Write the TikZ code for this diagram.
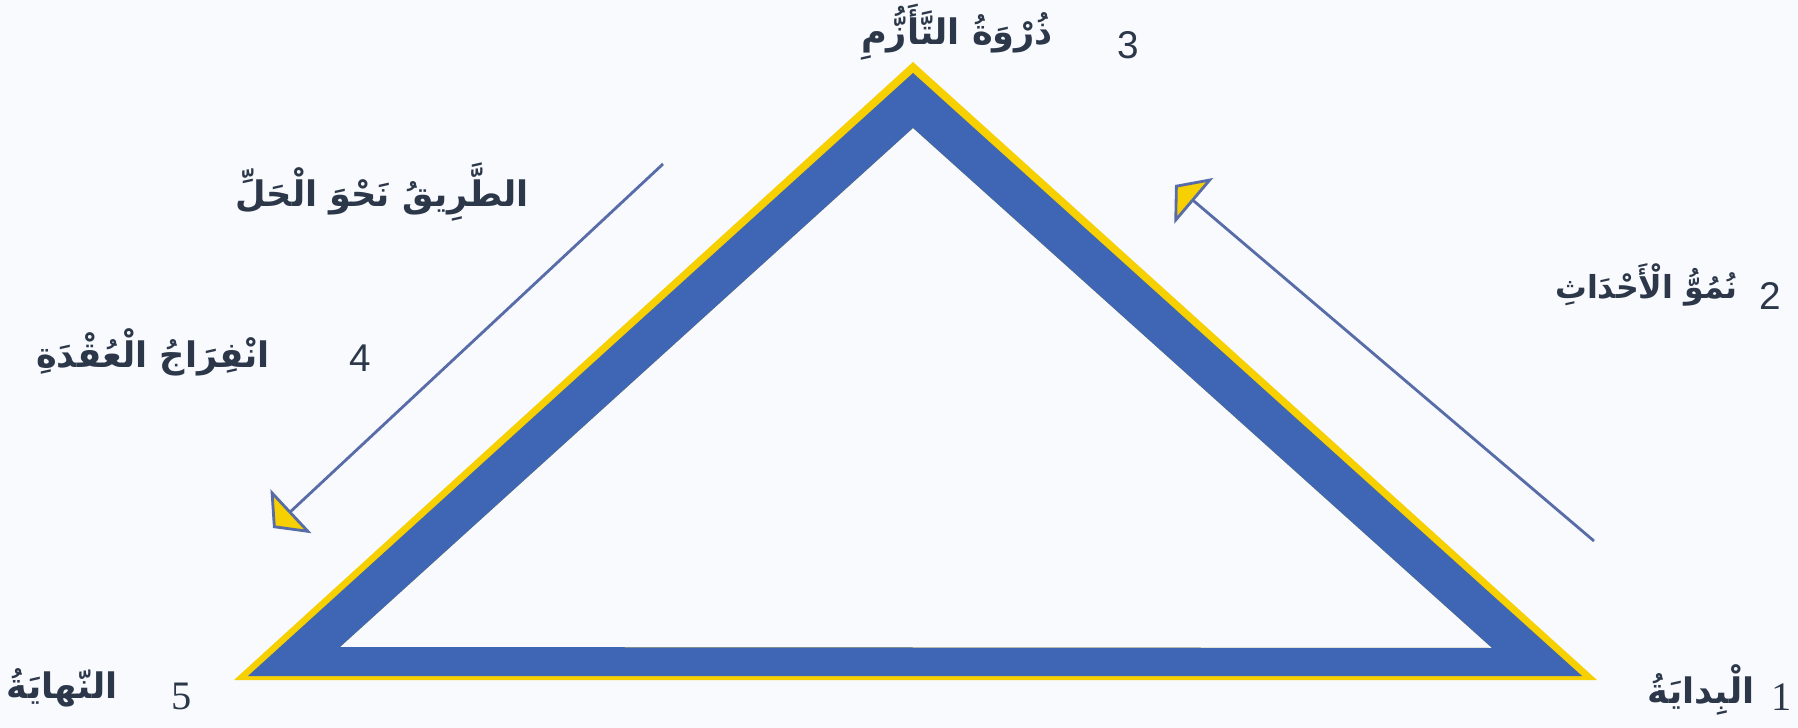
\documentclass[tikz,border=0pt]{standalone}
\usepackage{fontspec}
\usetikzlibrary{arrows.meta, positioning}
\newfontfamily\arabicfont[Script=Arabic]{DejaVu Sans}
\newfontfamily\numfont{Liberation Sans}
\newfontfamily\numserif{Liberation Serif}
\TeXXeTstate=1
\definecolor{bandblue}{RGB}{62,102,181}
\definecolor{rimyellow}{RGB}{246,208,0}
\definecolor{arrowline}{RGB}{88,108,168}
\definecolor{labelink}{RGB}{44,56,74}
\definecolor{paper}{RGB}{248,250,253}

\begin{document}
\begin{tikzpicture}[
  x=0.01cm, y=-0.01cm,
  stage/.style={font=\arabicfont\bfseries\fontsize{10}{12}\selectfont, text=labelink, inner sep=0pt},
  num/.style={font=\numfont\fontsize{11}{13}\selectfont, text=labelink, inner sep=0pt},
  numserif/.style={font=\numserif\fontsize{11.5}{13}\selectfont, text=labelink, inner sep=0pt},
  flow/.style={draw=arrowline, line width=0.8pt,
    -{Triangle[length=7pt, width=17pt, fill=rimyellow, line width=0.8pt]}}
]
  \useasboundingbox[fill=paper] (0,0) rectangle (1798,728);

  % triangle: yellow rim, blue band, open middle
  \coordinate (rimL) at (234,680);
  \coordinate (rimR) at (1597,680);
  \coordinate (rimT) at (913,62);
  \coordinate (outL) at (248,676);
  \coordinate (outR) at (1582,676);
  \coordinate (outT) at (913,73);
  \coordinate (inL) at (340,647);
  \coordinate (inR) at (1492,648);
  \coordinate (inT) at (913,128);
  \fill[rimyellow, even odd rule] (rimL) -- (rimR) -- (rimT) -- cycle
    (inL) -- (inR) -- (inT) -- cycle;
  \fill[bandblue, even odd rule] (outL) -- (outR) -- (outT) -- cycle
    (inL) -- (inR) -- (inT) -- cycle;

  % arrows
  \coordinate (downS) at (663,164);
  \coordinate (downE) at (273,528);
  \coordinate (upS) at (1594,541);
  \coordinate (upE) at (1175,185);
  \draw[flow] (downS) -- (downE);
  \draw[flow] (upS) -- (upE);

  % labels
  \node[stage] (peak) at (957,32) {\beginR ذُرْوَةُ التَّأَزُّمِ\endR};
  \node[num] (n3) at (1128,45) {3};
  \node[stage] (path) at (382,192) {\beginR الطَّرِيقُ نَحْوَ الْحَلِّ\endR};
  \node[stage] (relief) at (153,352) {\beginR انْفِرَاجُ الْعُقْدَةِ\endR};
  \node[num] (n4) at (360,358) {4};
  \node[stage, font=\arabicfont\bfseries\fontsize{9}{11}\selectfont, anchor=east] (growth) at (1738,285) {\beginR نُمُوُّ الْأَحْدَاثِ\endR};
  \node[num] (n2) at (1770,296) {2};
  \node[stage] (finish) at (62,688) {\beginR النّهايَةُ\endR};
  \node[numserif] (n5) at (182,696) {5};
  \node[stage] (start) at (1701,690) {\beginR الْبِدايَةُ\endR};
  \node[numserif] (n1) at (1782,697) {1};
\end{tikzpicture}
\end{document}
